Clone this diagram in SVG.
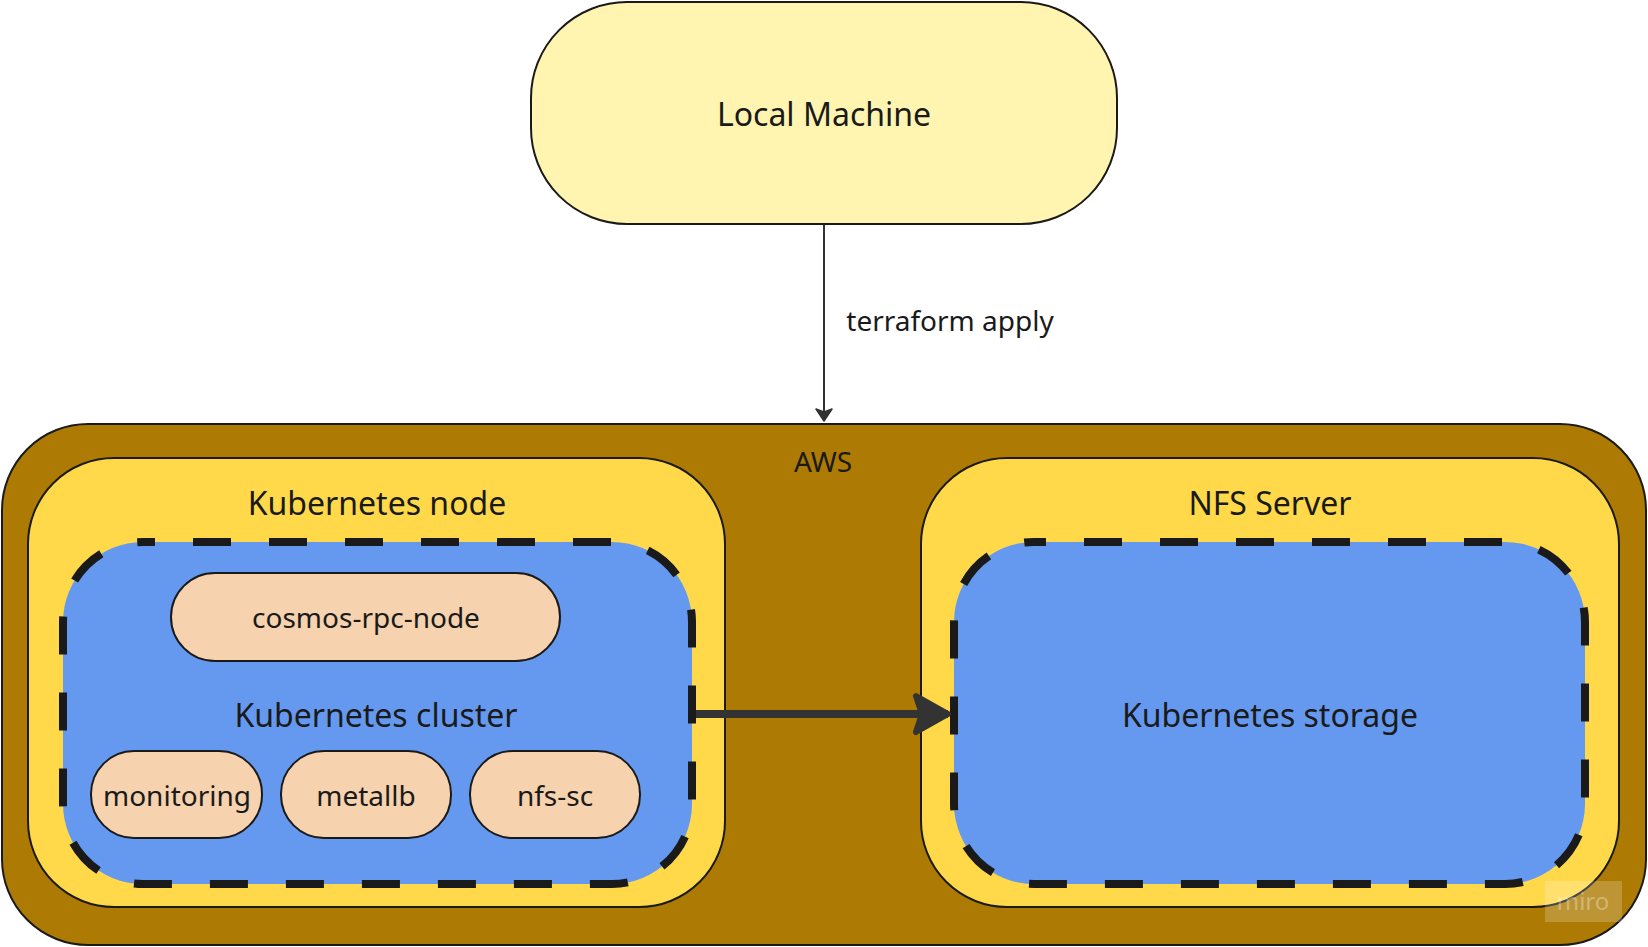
<svg xmlns="http://www.w3.org/2000/svg" width="1648" height="947" viewBox="0 0 1648 947">
<defs>
<style>
text{font-family:"Noto Sans","Open Sans","DejaVu Sans",sans-serif;fill:#1a1a1a;text-anchor:middle;dominant-baseline:central}
.big{font-size:32px}
.mid{font-size:28px}
.box{stroke:#1a1a1a;stroke-width:2}
.dash{stroke:#1a1a1a;stroke-width:8;stroke-dasharray:38 38;stroke-dashoffset:26}
.pill{fill:#F6D2AE;stroke:#1a1a1a;stroke-width:2}
</style>
<marker id="thin" markerUnits="userSpaceOnUse" viewBox="0 0 14 20" markerWidth="14" markerHeight="20" refX="13" refY="10" orient="auto">
<path d="M1,2 L13,10 L1,18 L4,10 Z" fill="#333" stroke="#333" stroke-width="1.5" stroke-linejoin="round"/>
</marker>
<marker id="thick" markerUnits="userSpaceOnUse" viewBox="0 0 44 50" markerWidth="44" markerHeight="50" refX="40" refY="25" orient="auto">
<path d="M8,7 L40,25 L8,43 L14,25 Z" fill="#333" stroke="#333" stroke-width="6" stroke-linejoin="round"/>
</marker>
</defs>
<rect width="1648" height="947" fill="#ffffff"/>
<g id="local-machine">
<rect class="box" x="531" y="2" width="586" height="222" rx="96" fill="#FFF4B0"/>
<text class="big" x="824" y="113">Local Machine</text>
</g>
<g id="aws">
<rect class="box" x="2" y="424" width="1644" height="521" rx="86" fill="#AD7B03"/>
<text class="mid" x="823" y="461">AWS</text>
</g>
<g id="kubernetes-node">
<rect class="box" x="28" y="458" width="697" height="449" rx="86" fill="#FFD94A"/>
<text class="big" x="377" y="502">Kubernetes node</text>
</g>
<g id="kubernetes-cluster">
<rect class="dash" x="63" y="542" width="629" height="342" rx="80" fill="#6599EF"/>
<text class="big" x="376" y="714">Kubernetes cluster</text>
</g>
<g id="cosmos-rpc-node">
<rect class="pill" x="171" y="573" width="389" height="88" rx="44"/>
<text class="mid" x="366" y="617">cosmos-rpc-node</text>
</g>
<g id="monitoring">
<rect class="pill" x="91" y="751" width="171" height="87" rx="43"/>
<text class="mid" x="177" y="795">monitoring</text>
</g>
<g id="metallb">
<rect class="pill" x="281" y="751" width="170" height="87" rx="43"/>
<text class="mid" x="366" y="795">metallb</text>
</g>
<g id="nfs-sc">
<rect class="pill" x="470" y="751" width="170" height="87" rx="43"/>
<text class="mid" x="555" y="795">nfs-sc</text>
</g>
<g id="nfs-server">
<rect class="box" x="921" y="458" width="698" height="449" rx="86" fill="#FFD94A"/>
<text class="big" x="1270" y="502">NFS Server</text>
</g>
<g id="kubernetes-storage">
<rect class="dash" x="954" y="542" width="631" height="342" rx="80" fill="#6599EF"/>
<text class="big" x="1270" y="714">Kubernetes storage</text>
</g>
<g id="connectors">
<line x1="824" y1="225" x2="824" y2="421" stroke="#333" stroke-width="2" marker-end="url(#thin)"/>
<text class="mid" x="950" y="320">terraform apply</text>
<line x1="696" y1="714" x2="948" y2="714" stroke="#333" stroke-width="8" marker-end="url(#thick)"/>
</g>
<g id="watermark">
<rect x="1545" y="881" width="77" height="41" fill="#ffffff" opacity="0.2"/>
<text x="1583" y="900" style="font-size:24px;fill:#ffffff" opacity="0.3">miro</text>
</g>
</svg>
